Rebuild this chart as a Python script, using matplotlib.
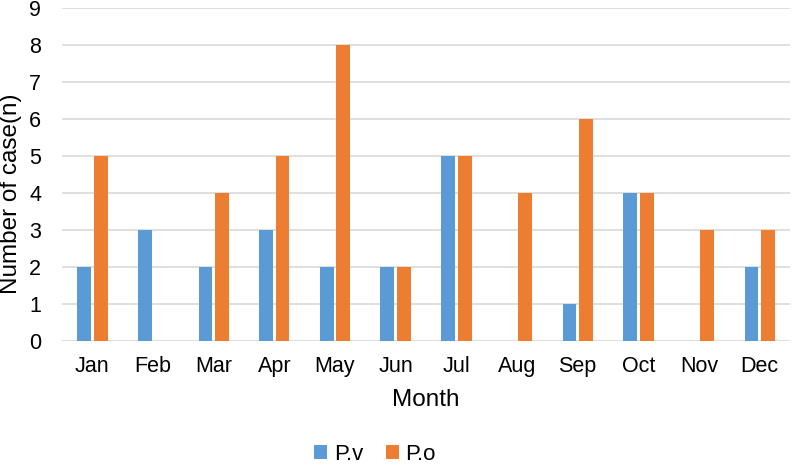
import numpy as np
import matplotlib
matplotlib.use('Agg')
import matplotlib.pyplot as plt

plt.rcParams['font.family'] = ['Liberation Sans', 'DejaVu Sans']

months = ['Jan', 'Feb', 'Mar', 'Apr', 'May', 'Jun', 'Jul', 'Aug', 'Sep', 'Oct', 'Nov', 'Dec']
pv = [2, 3, 2, 3, 2, 2, 5, 0, 1, 4, 0, 2]
po = [5, 0, 4, 5, 8, 2, 5, 4, 6, 4, 3, 3]

fig = plt.figure(figsize=(7.94, 4.66), dpi=100)
ax = fig.add_axes([62 / 794, 1 - 341 / 466, 728 / 794, 333 / 466])

x = np.arange(len(months))
w = 0.23
ax.bar(x - 0.135, pv, w, color='#5B9BD5', label='P.v', zorder=3)
ax.bar(x + 0.135, po, w, color='#ED7D31', label='P.o', zorder=3)

ax.set_xlim(-0.5, 11.5)
ax.set_ylim(0, 9)
ax.set_yticks(range(10))
ax.set_xticks(x)
ax.set_xticklabels(months)
ax.grid(axis='y', color='#D9D9D9', linewidth=1.2, zorder=0)
for s in ['top', 'right', 'left', 'bottom']:
    ax.spines[s].set_visible(False)
ax.tick_params(axis='both', length=0, labelsize=15.5, colors='#000000')
ax.tick_params(axis='x', pad=11)
ax.tick_params(axis='y', pad=15)

# axis titles placed to match the reference layout
ax.set_xlabel('Month', fontsize=17.5, va='center')
ax.xaxis.set_label_coords(0.5, (341 - 400) / 333)
ax.set_ylabel('Number of case(n)', fontsize=17.5, va='center')
ax.yaxis.set_label_coords((11 - 62) / 728, (341 - 194) / 333)

fig.legend(loc='center', bbox_to_anchor=(375 / 794, 1 - 454 / 466), ncol=2, frameon=False,
           fontsize=16, handlelength=0.6, handleheight=0.6, columnspacing=1.0, handletextpad=0.3,
           borderpad=0.1)

fig.savefig('out.png', dpi=100)
